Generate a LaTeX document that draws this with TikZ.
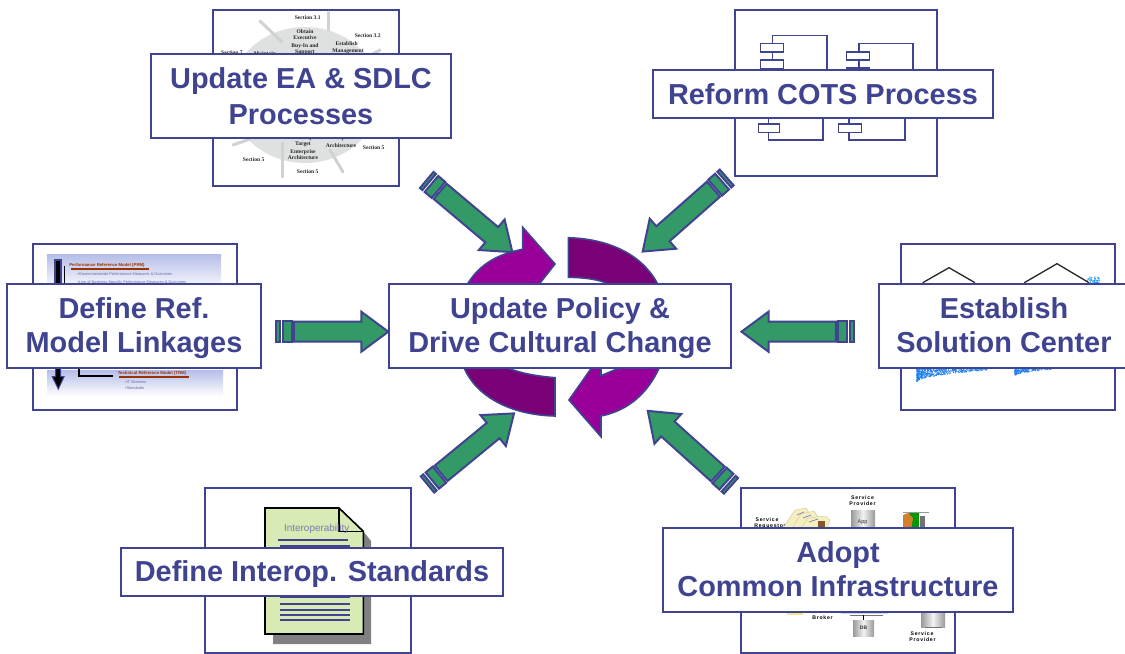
\documentclass[tikz,border=0pt]{standalone}
\usepackage{fontspec}
\setmainfont{Liberation Sans}
\newfontfamily\serifsm{Liberation Serif}
\newfontfamily\spacedsf[LetterSpace=14]{Liberation Sans}
\definecolor{navy}{HTML}{404490}
\definecolor{grn}{HTML}{339966}
\definecolor{magn}{HTML}{990099}
\definecolor{dpur}{HTML}{7A0076}
\definecolor{brn}{HTML}{993300}
\definecolor{pale}{HTML}{B4BDE8}
\definecolor{wheel}{HTML}{DEE1DF}
\definecolor{spk}{HTML}{CFD3D0}
\definecolor{docg}{HTML}{D8EBB4}
\definecolor{cream}{HTML}{F5EFC0}
\definecolor{dots}{HTML}{1F80F0}
\newcommand{\topr}{\rule{0pt}{26bp}}
\newcommand{\botr}{\rule[-7bp]{0pt}{7bp}}
\tikzset{
  frame/.style={draw=navy,line width=2bp,fill=white},
  lbl/.style={draw=navy,line width=2bp,fill=white,text=navy,font=\fontsize{29}{34}\selectfont\bfseries,align=center,inner sep=0pt},
  compo/.style={draw=navy,line width=1.5bp,fill=white},
  gbar/.style={draw=navy,line width=2bp,fill=grn,line join=miter},
  purp/.style={draw=navy,line width=1.6bp,line join=miter},
  wtext/.style={font=\serifsm\fontsize{5.6}{6}\selectfont\bfseries,text=black!85,inner sep=0pt},
  stext/.style={font=\spacedsf\fontsize{5.2}{6}\selectfont\bfseries,text=black,inner sep=0pt},
  rtext/.style={font=\fontsize{3.9}{4.5}\selectfont,text=navy!80,inner sep=0pt,anchor=west},
  btext/.style={font=\fontsize{4.3}{5}\selectfont\bfseries,text=brn,inner sep=0pt},
  spoke/.style={draw=spk,line width=3bp,line cap=round},
  docline/.style={draw=navy,line width=1.7bp},
  cyl/.style={left color=black!40,right color=black!40,middle color=black!5},
  folder/.style={fill=cream,draw=cream!80!black,line width=.3bp},
}
\newcommand{\greenarrow}[4]{%
  \begin{scope}[shift={(#1,#2)},rotate=#3]
    \coordinate (#4) at (0,0);
    \draw[gbar] (0,-10.5) rectangle (3.2,10.5);
    \draw[gbar] (6.2,-10.5) rectangle (15.4,10.5);
    \draw[gbar] (17.6,-10) -- (85,-10) -- (85,-20) -- (112,0) -- (85,20) -- (85,10) -- (17.6,10) -- cycle;
  \end{scope}}
\begin{document}
\begin{tikzpicture}[x=1bp,y=-1bp]
\useasboundingbox (0,0) rectangle (1125,654);
\fill[white] (0,0) rectangle (1125,654);

% ---- top-left picture
\draw[frame] (213,10) rectangle (399,186);
\fill[wheel] (305,95) ellipse [x radius=75,y radius=68];
\draw[spoke] (328,12) -- (328,30);
\draw[spoke] (260,21) -- (282,42);
\draw[spoke] (380,50) -- (357,63);
\draw[spoke] (282,177) -- (282,143);
\draw[spoke] (343,172) -- (330,150);
\draw[spoke] (233,145) -- (250,139);
\node[wtext] (w1) at (307.7,18) {Section 3.1};
\node[wtext] (w2) at (305,32) {Obtain};
\node[wtext] (w3) at (305,38) {Executive};
\node[wtext] (w4) at (305,46) {Buy-In and};
\node[wtext] (w5) at (305,52) {Support};
\node[wtext] (w6) at (367.7,36) {Section 3.2};
\node[wtext] (w7) at (346.7,43.7) {Establish};
\node[wtext] (w8) at (348,51.7) {Management};
\node[wtext] (w9) at (232,53) {Section 7};
\node[wtext] (w19) at (265,53.5) {Maintain};
\node[wtext] (w10) at (303,138.5) {Develop};
\node[wtext] (w11) at (303,144.5) {Target};
\node[wtext] (w12) at (303,152) {Enterprise};
\node[wtext] (w13) at (303,158) {Architecture};
\node[wtext] (w14) at (341,138.5) {Enterprise};
\node[wtext] (w15) at (341,146) {Architecture};
\node[wtext] (w16) at (373.7,148) {Section 5};
\node[wtext] (w17) at (253.7,160) {Section 5};
\node[wtext] (w18) at (307.7,172) {Section 5};

% ---- top-right picture
\draw[frame] (735,10) rectangle (937,176);
\draw[compo,fill=none] (772.7,44) -- (772.7,35.7) -- (827,35.7) -- (827,75);
\draw[compo] (772.7,52) -- (772.7,60);
\draw[compo] (760.7,43.7) rectangle (783.3,52);
\draw[compo] (760.7,60) rectangle (783.3,68.3);
\draw[compo,fill=none] (859,52) -- (859,43.7) -- (913,43.7) -- (913,75);
\draw[compo] (859,60) -- (859,70);
\draw[compo] (846.7,52) rectangle (869.3,60);
\draw[compo] (846.7,68) rectangle (869.3,75);
\draw[compo,fill=none] (768.7,115) -- (768.7,140) -- (823,140) -- (823,115);
\draw[compo] (758.7,124) rectangle (779.3,132.3);
\draw[compo,fill=none] (849,115) -- (849,140) -- (905,140) -- (905,115);
\draw[compo] (838.7,124) rectangle (861.3,132.3);

% ---- left picture
\draw[frame] (33,244) rectangle (237,410);
\shade[top color=pale,bottom color=white] (47,254) rectangle (221,290);
\shade[top color=pale,bottom color=white] (47,370) rectangle (223,396);
\fill[navy] (54.3,259) rectangle (62,290);
\fill[black] (56,261) rectangle (60,290);
\draw[black,line width=1.3bp] (64.3,265.7) -- (64.3,290);
\draw[black,line width=1.3bp] (79,360) -- (79,376) -- (113.3,376);
\draw[navy,line width=1bp,fill=black] (55.7,360) -- (55.7,376.7) -- (52.3,376.7) -- (58.3,389) -- (64,376.7) -- (60.7,376.7) -- (60.7,360) -- cycle;
\node[btext] (m1) at (107,265.2) {Performance Reference Model (PRM)};
\draw[brn,line width=1.6bp] (71,268.7) -- (149,268.7);
\node[rtext] (m2) at (77.3,274) {•Governmentwide Performance Measures \& Outcomes};
\node[rtext] (m3) at (77.3,282) {•Line of Business-Specific Performance Measures \& Outcomes};
\node[btext] (m4) at (152,373.5) {Technical Reference Model (TRM)};
\draw[brn,line width=1.6bp] (119,376.7) -- (188.7,376.7);
\node[rtext] (m5) at (125,382) {•IT Services};
\node[rtext] (m6) at (125,388) {•Standards};

% ---- right picture
\draw[frame] (901,244) rectangle (1115,410);
\draw[black!85,line width=1.3bp] (922.7,282.7) -- (949,267.7) -- (975,282.7);
\draw[black!85,line width=1.3bp] (1024.3,282.7) -- (1057,263.7) -- (1089,282.7);
\pgfmathsetseed{7}
\foreach \i in {1,...,700}{
  \pgfmathsetmacro{\u}{rnd}\pgfmathsetmacro{\v}{rnd}
  \fill[dots] ({917+70*\u*\u},{367+(15-12*\u)*\v}) circle (0.6);
}
\foreach \i in {1,...,260}{
  \pgfmathsetmacro{\u}{rnd}\pgfmathsetmacro{\v}{rnd}
  \fill[dots] ({1015+38*\u*\u},{367+(9-7*\u)*\v}) circle (0.6);
}
\foreach \i in {1,...,90}{
  \pgfmathsetmacro{\u}{rnd}\pgfmathsetmacro{\v}{rnd}
  \fill[dots!80!cyan] ({1087+13*\u},{277+8*\v}) circle (0.55);
}

% ---- bottom-left picture
\draw[frame] (205,488) rectangle (411,653);
\fill[black!50] (363,531) -- (371,541) -- (371,644) -- (273,644) -- (273,630) -- cycle;
\draw[black,line width=1.6bp,fill=docg] (265,508) -- (339,508) -- (363.3,531.3) -- (363.3,634) -- (265,634) -- cycle;
\draw[black,line width=1.6bp] (339,508) -- (339,531.3) -- (363.3,531.3);
\node[inner sep=0pt,text=navy!70,font=\fontsize{10}{12}\selectfont] (d0) at (316.7,529) {Interoperability};
\draw[docline] (278.3,539.7) -- (348,539.7);
\draw[docline] (280.3,545.7) -- (350,545.7);
\draw[docline] (280.3,597.3) -- (350,597.3);
\draw[docline] (280.3,604) -- (350,604);
\draw[docline] (280.3,609.7) -- (350,609.7);
\draw[docline] (280.3,614.7) -- (350,614.7);
\draw[docline] (280.3,620) -- (350,620);

% ---- bottom-right picture
\draw[frame] (741,488) rectangle (955,653);
\node[stext] (s1) at (862.5,498) {Service};
\node[stext] (s2) at (862.5,504) {Provider};
\node[stext] (s3) at (767,520) {Service};
\node[stext] (s4) at (770,526) {Requestor};
\shade[cyl] (851,510) rectangle (875,530);
\node[inner sep=0pt,font=\fontsize{5.5}{6}\selectfont,text=black!80] (s5) at (862.5,522) {App};
\draw[folder] (783,528) -- (795,510) -- (806,508) -- (810,514) -- (800,532) -- cycle;
\draw[navy!70,line width=.7bp] (797,515) -- (804,512);
\draw[folder] (791,530) -- (801,514) -- (814,511) -- (818,517) -- (808,532) -- cycle;
\draw[navy!70,line width=.7bp] (803,518) -- (811,515);
\draw[folder] (798,532) -- (808,518) -- (826,516) -- (830,520) -- (826,532) -- cycle;
\draw[navy!70,line width=.7bp] (809,522) -- (818,519);
\fill[brown!70!black] (818,521) rectangle (825,530);
\fill[white] (903,512) rectangle (929,530);
\fill[green!60!black] (909,512) rectangle (919,530);
\fill[brown!70!orange] (903,515) -- (908,513) -- (913,518) -- (911,530) -- (903,530) -- cycle;
\fill[black!55] (920,516) rectangle (925,530);
\draw[black!40,line width=.6bp] (903,512) -- (929,512);
\fill[brown!40!yellow!50!white] (787,610) -- (803,610) -- (803,615) -- (787,615) -- cycle;
\fill[pale!60] (841,610) rectangle (888,614);
\draw[black!55,line width=.8bp] (850,615.3) -- (883,615.3);
\draw[black,line width=.6bp] (863.5,615.3) -- (863.5,619.5);
\shade[cyl] (853,620) rectangle (874,636);
\node[inner sep=0pt,font=\fontsize{5}{6}\selectfont\bfseries,text=black!80] (s6) at (863.5,628) {DB};
\shade[cyl] (921,610) rectangle (945,627);
\draw[black!55,line width=.8bp] (925,627.5) -- (942,627.5);
\node[stext] (s7) at (822.5,612) {Service};
\node[stext] (s8) at (822.5,618) {Broker};
\node[stext] (s9) at (922,634) {Service};
\node[stext] (s10) at (922.5,640) {Provider};

% ---- central cycle
\draw[purp,fill=magn] (468,292) -- (468,283.3) .. controls (480,264) and (498,254) .. (522.7,249.3) -- (522.7,227.3) -- (555,264) -- (533,292) -- cycle;
\draw[purp,fill=dpur] (568.3,237.7) .. controls (610,239) and (642,255) .. (657.3,283.3) -- (660,292) -- (612,292) -- (606.7,283.3) .. controls (597,279) and (583,277.5) .. (568.3,277.3) -- cycle;
\draw[purp,fill=dpur] (464,367.7) .. controls (476,396) and (510,415) .. (555,416) -- (555,377.7) .. controls (535,376) and (520,373) .. (506.7,367.7) -- (500,360) -- (460,360) -- cycle;
\draw[purp,fill=magn] (659.3,367.7) .. controls (648,392) and (630,410) .. (601,416) -- (601,436.7) -- (569,400) -- (591.7,367.7) -- (595,360) -- (601,360) -- (601,375.7) -- (620,367.7) -- (630,360) -- (665,360) -- cycle;

% ---- green arrows
\greenarrow{426.7}{180}{-40.1}{a1}
\greenarrow{726.7}{177.5}{221.4}{a2}
\greenarrow{276.3}{331.7}{0}{a3}
\greenarrow{853.5}{331.7}{180}{a4}
\greenarrow{427.5}{484.5}{39.4}{a5}
\greenarrow{731}{485.8}{138}{a6}

% ---- labels
\node[lbl,minimum width=300bp,minimum height=84bp,font=\fontsize{29}{36}\selectfont\bfseries] (tl) at (301,96) {Update EA \& SDLC\\Processes};
\node[lbl,minimum width=340bp,minimum height=48bp] (tr) at (823,94) {Reform COTS Process};
\node[lbl,minimum width=254bp,minimum height=84bp] (ml) at (134,326) {\topr Define Ref.\\Model Linkages\botr};
\node[lbl,minimum width=342bp,minimum height=84bp] (ctr) at (560,326) {\topr Update Policy \&\\Drive Cultural Change\botr};
\node[lbl,minimum width=250bp,minimum height=84bp] (mr) at (1004,326) {\topr Establish\\Solution Center\botr};
\node[lbl,minimum width=382bp,minimum height=48bp] (bl) at (312,572) {\rule{0pt}{24bp}Define Interop. Standards};
\node[lbl,minimum width=350bp,minimum height=84bp] (br) at (838,570) {\topr Adopt\\Common Infrastructure\botr};
\end{tikzpicture}
\end{document}
